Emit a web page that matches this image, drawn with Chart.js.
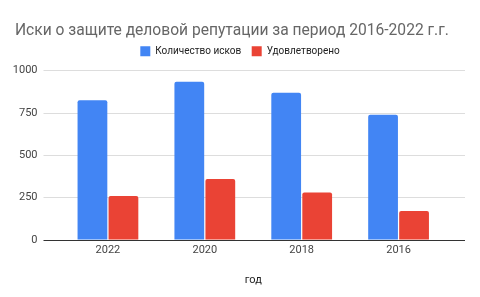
<!DOCTYPE html>
<html lang="ru">
<head>
    <meta charset="UTF-8">
    <title>Иски о защите деловой репутации</title>
    <script src="https://cdn.jsdelivr.net/npm/chart.js"></script>
    <style>
        body { margin: 0; background: #fff; }
        #wrap { width: 480px; height: 297px; }
    </style>
</head>
<body>
    <div id="wrap"><canvas id="claimsChart"></canvas></div>

    <script>
        // data
        const years = ["2022", "2020", "2018", "2016"];
        const totalClaims = [825, 935, 870, 740];
        const satisfied = [260, 360, 280, 172];
        const yTicks = [0, 250, 500, 750, 1000];

        const font = "Roboto, 'Liberation Sans', Arial, sans-serif";

        const ctx = document.getElementById("claimsChart").getContext("2d");
        new Chart(ctx, {
            type: "bar",
            data: {
                labels: years,
                datasets: [
                    { label: "Количество исков", data: totalClaims, backgroundColor: "#4285f4" },
                    { label: "Удовлетворено", data: satisfied, backgroundColor: "#ea4335" }
                ]
            },
            options: {
                responsive: true,
                maintainAspectRatio: false,
                animation: false,
                categoryPercentage: 0.64,
                barPercentage: 0.96,
                borderRadius: { topLeft: 2, topRight: 2 },
                borderSkipped: "bottom",
                layout: { padding: { left: 15, right: 15, top: 21.5, bottom: 12 } },
                plugins: {
                    title: {
                        display: true,
                        text: "Иски о защите деловой репутации за период 2016-2022 г.г.",
                        align: "start",
                        color: "#666",
                        font: { family: font, size: 15.6, weight: "normal" },
                        padding: { top: 0, bottom: -4.5 }
                    },
                    // empty subtitle used only as a spacer under the legend
                    subtitle: {
                        display: true,
                        text: "",
                        weight: 500,
                        font: { size: 1 },
                        padding: { top: 3.3, bottom: 0 }
                    },
                    legend: {
                        labels: {
                            boxWidth: 10,
                            boxHeight: 10,
                            color: "#222",
                            padding: 10.5,
                            font: { family: font, size: 10 }
                        }
                    },
                    tooltip: { enabled: false }
                },
                scales: {
                    x: {
                        grid: { display: false, drawTicks: false },
                        border: { display: false },
                        ticks: { color: "#444", padding: 4, font: { family: font, size: 11 } },
                        title: {
                            display: true,
                            text: "год",
                            color: "#222",
                            font: { family: font, size: 11 },
                            padding: { top: 0, bottom: -2 }
                        },
                        afterFit: s => { s.height = 45; }
                    },
                    y: {
                        min: 0,
                        max: 1000,
                        afterBuildTicks: s => { s.ticks = yTicks.map(v => ({ value: v })); },
                        grid: {
                            color: c => c.tick && c.tick.value === 0 ? "#333" : "#ddd",
                            tickLength: 16
                        },
                        border: { display: false },
                        ticks: {
                            color: "#444",
                            padding: 6,
                            font: { family: font, size: 11 },
                            callback: v => String(v)
                        },
                        afterFit: s => {
                            s.width = 44.5;
                            // let the "1000" label run past the axis box
                            s._computeLabelArea = () => undefined;
                        }
                    },
                    yRight: {
                        position: "right",
                        min: 0,
                        max: 1000,
                        afterBuildTicks: s => { s.ticks = yTicks.map(v => ({ value: v })); },
                        grid: {
                            drawOnChartArea: false,
                            color: c => c.tick && c.tick.value === 0 ? "#333" : "#ddd",
                            tickLength: 18
                        },
                        border: { display: false },
                        ticks: { display: false }
                    }
                }
            }
        });
    </script>
</body>
</html>
